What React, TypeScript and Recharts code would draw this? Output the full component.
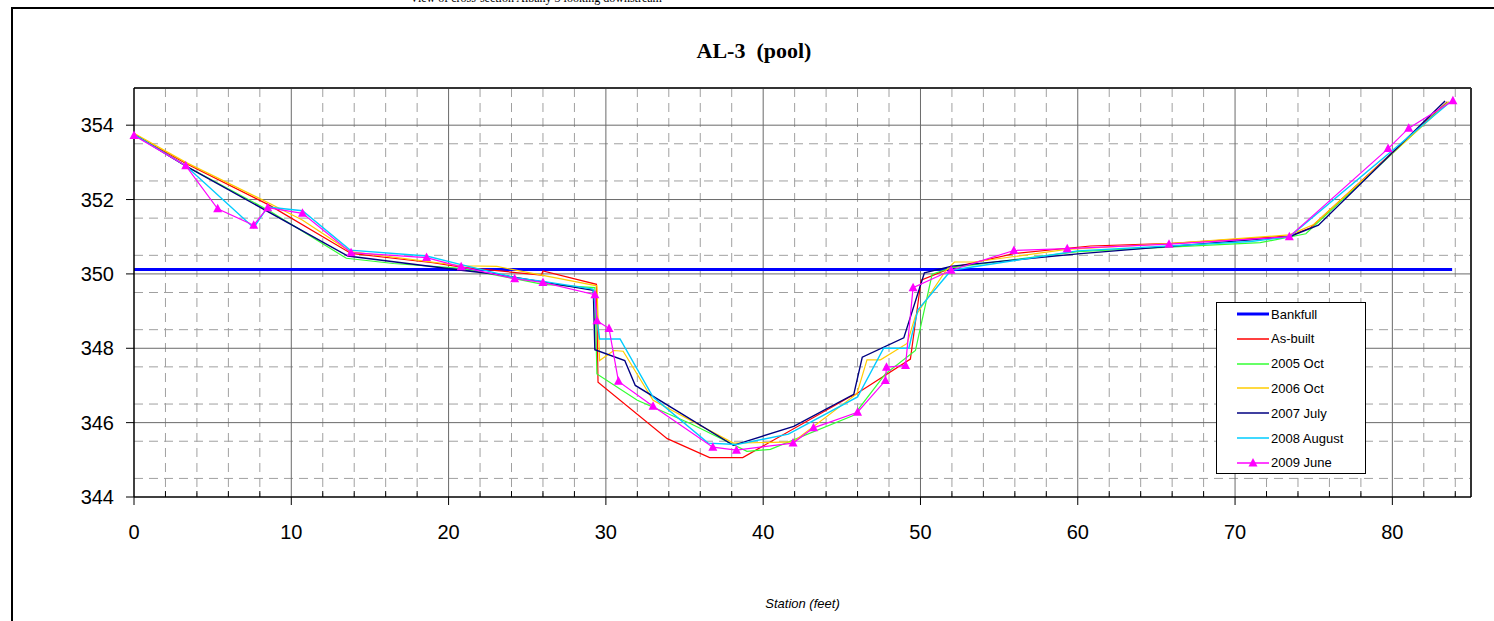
import React from 'react';
import { LineChart, Line, XAxis, YAxis, CartesianGrid, ReferenceLine } from 'recharts';

// station (feet) / elevation pairs
const bankfull = [[0, 350.12], [83.8, 350.12]];

const asBuilt = [
  [0, 353.75], [3.3, 352.97], [8.6, 351.85], [13.8, 350.55], [19.0, 350.3], [20.8, 350.18],
  [25.9, 349.97], [26.0, 350.08], [29.4, 349.72], [29.5, 347.09], [33.9, 345.57], [36.6, 345.06],
  [38.7, 345.06], [45.5, 346.69], [45.76, 346.73], [49.36, 347.71], [50.04, 349.83], [52.0, 350.17],
  [56.0, 350.55], [60.8, 350.75], [66.0, 350.82], [73.45, 351.02], [74.8, 351.24], [83.5, 354.63],
];

const oct2005 = [
  [0, 353.75], [3.3, 352.9], [8.6, 351.7], [13.5, 350.42], [16.5, 350.28], [20.8, 350.15],
  [26.0, 349.72], [29.3, 349.63], [29.43, 347.31], [32.0, 346.6], [35.4, 345.97], [38.97, 345.23],
  [40.46, 345.28], [45.76, 346.2], [47.77, 347.31], [49.68, 347.94], [50.74, 349.99], [52.0, 350.17],
  [60.0, 350.6], [71.6, 350.84], [74.5, 351.08], [83.5, 354.61],
];

const oct2006 = [
  [0, 353.78], [3.3, 353.0], [8.6, 351.9], [10.7, 351.45], [13.74, 350.6], [20.8, 350.22],
  [23.07, 350.2], [29.43, 349.68], [29.6, 347.67], [30.5, 347.94], [31.1, 347.92], [33.0, 346.6],
  [38.1, 345.45], [41.9, 345.48], [45.96, 346.78], [46.6, 347.69], [47.46, 347.69], [49.15, 348.13],
  [49.68, 348.87], [51.6, 350.08], [52.16, 350.32], [53.4, 350.32], [59.3, 350.66], [66.0, 350.82],
  [73.45, 351.05], [75.0, 351.33], [83.6, 354.63],
];

const july2007 = [
  [0, 353.75], [3.3, 352.9], [13.6, 350.48], [20.8, 350.1], [23.07, 349.99], [29.2, 349.56],
  [29.3, 347.96], [31.2, 347.67], [31.87, 347.0], [38.1, 345.39], [41.94, 345.9], [45.76, 346.76],
  [46.3, 347.76], [48.94, 348.28], [50.25, 350.03], [52.0, 350.21], [60.0, 350.54], [73.45, 351.0],
  [75.3, 351.31], [83.35, 354.65],
];

const aug2008 = [
  [0, 353.75], [3.29, 352.91], [7.61, 351.24], [8.5, 351.8], [10.71, 351.7], [13.74, 350.64],
  [18.6, 350.48], [20.8, 350.25], [24.2, 349.9], [26.0, 349.8], [29.18, 349.59], [29.6, 348.25],
  [30.9, 348.25], [33.0, 346.69], [36.5, 345.45], [38.3, 345.41], [41.6, 345.69], [46.0, 346.69],
  [47.66, 348.0], [49.26, 348.0], [49.83, 349.03], [51.95, 350.1], [60.0, 350.62], [71.0, 350.87],
  [73.45, 351.0], [83.7, 354.63],
];

const june2009 = [
  [0, 353.72], [3.29, 352.91], [5.32, 351.75], [7.61, 351.31], [8.5, 351.78], [10.71, 351.63],
  [13.8, 350.57], [18.6, 350.44], [20.8, 350.19], [24.2, 349.87], [26.0, 349.77], [29.3, 349.44],
  [29.43, 348.74], [30.2, 348.53], [30.8, 347.11], [33.0, 346.44], [36.8, 345.34], [38.3, 345.26],
  [41.9, 345.45], [43.2, 345.86], [46.0, 346.28], [47.77, 347.13], [47.84, 347.49], [49.05, 347.54],
  [49.53, 349.63], [51.95, 350.1], [55.94, 350.63], [59.33, 350.68], [65.8, 350.8], [73.45, 351.0],
  [79.73, 353.37], [81.04, 353.92], [83.85, 354.66],
];

const xTicks = [0, 10, 20, 30, 40, 50, 60, 70, 80];
const yTicks = [344, 346, 348, 350, 352, 354];

// gridline positions
const xMinor = Array.from({ length: 42 }, (_, i) => (i + 1) * 2).filter((v) => v % 10 !== 0);
const yMinor = Array.from({ length: 22 }, (_, i) => 344.5 + i * 0.5).filter((v) => v % 2 !== 0);

const series = [
  { name: 'Bankfull', pts: bankfull, color: '#0000ff', width: 3 },
  { name: 'As-built', pts: asBuilt, color: '#ff0000', width: 1.2 },
  { name: '2005 Oct', pts: oct2005, color: '#33ff33', width: 1.2 },
  { name: '2006 Oct', pts: oct2006, color: '#ffcc00', width: 1.2 },
  { name: '2007 July', pts: july2007, color: '#000080', width: 1.4 },
  { name: '2008 August', pts: aug2008, color: '#00ccff', width: 1.4 },
  { name: '2009 June', pts: june2009, color: '#ff00ff', width: 1.2 },
];

const toRows = (pts: number[][]) => pts.map(([x, y]) => ({ x, y }));

const Tri = (props: any) => {
  const { cx, cy, index } = props;
  if (cx == null || cy == null) return <g key={index} />;
  return (
    <polygon
      key={index}
      points={`${cx},${cy - 5} ${cx - 4.5},${cy + 3.5} ${cx + 4.5},${cy + 3.5}`}
      fill="#ff00ff"
    />
  );
};

const sans = 'Arial, "Liberation Sans", sans-serif';
const serif = '"Times New Roman", "Liberation Serif", serif';

const Legend = () => (
  <div
    style={{
      position: 'absolute', left: 1216, top: 302, width: 148, height: 170,
      border: '1px solid #000', background: '#fff', fontFamily: sans, fontSize: 13,
    }}
  >
    {series.map((s, i) => (
      <div key={s.name} style={{ position: 'absolute', left: 20, top: 2 + i * 24.8, height: 18, display: 'flex', alignItems: 'center' }}>
        <svg width={32} height={14}>
          <line x1={0} x2={32} y1={7} y2={7} stroke={s.color} strokeWidth={s.name === 'Bankfull' ? 3 : 1.5} />
          {s.name === '2009 June' && <polygon points="16,2 11.5,10.5 20.5,10.5" fill="#ff00ff" />}
        </svg>
        <span style={{ marginLeft: 2, color: '#000' }}>{s.name}</span>
      </div>
    ))}
  </div>
);

const App = () => (
  <div style={{ position: 'fixed', left: 0, top: 0, width: 1494, height: 621, background: '#fff', overflow: 'hidden' }}>
    <div style={{ position: 'absolute', left: 410, top: -9, fontFamily: serif, fontSize: 12, whiteSpace: 'nowrap' }}>
      View of cross-section Albany 3 looking downstream
    </div>
    <div style={{ position: 'absolute', left: 11, top: 7, width: 1600, height: 700, border: '2px solid #000' }} />
    <div style={{ position: 'absolute', left: 0, width: 1508, top: 38, textAlign: 'center', fontFamily: serif, fontWeight: 'bold', fontSize: 22, whiteSpace: 'pre' }}>
      AL-3  (pool)
    </div>
    <div style={{ position: 'absolute', left: 134, width: 1337, top: 596, textAlign: 'center', fontFamily: sans, fontStyle: 'italic', fontSize: 13 }}>
      Station (feet)
    </div>
    <div style={{ position: 'absolute', left: 0, top: 0 }}>
      <LineChart width={1494} height={621} margin={{ top: 88, right: 23, bottom: 0, left: 0 }}>
        <CartesianGrid
          stroke="#a0a0a0"
          strokeDasharray="9 6"
          horizontalValues={yMinor}
          verticalValues={xMinor}
        />
        <CartesianGrid
          stroke="#6a6a6a"
          horizontalValues={yTicks.slice(1)}
          verticalValues={xTicks.slice(1)}
        />
        <XAxis
          type="number"
          dataKey="x"
          domain={[0, 85]}
          ticks={xTicks}
          allowDuplicatedCategory={false}
          height={124}
          tickSize={8}
          tickMargin={20}
          axisLine={{ stroke: '#000', strokeWidth: 1.5 }}
          tickLine={{ stroke: '#000' }}
          tick={{ fill: '#000', fontSize: 20, fontFamily: sans }}
        />
        <YAxis
          type="number"
          domain={[344, 355]}
          ticks={yTicks}
          width={134}
          tickSize={8}
          tickMargin={12}
          axisLine={{ stroke: '#000', strokeWidth: 1.5 }}
          tickLine={{ stroke: '#000' }}
          tick={{ fill: '#000', fontSize: 20, fontFamily: sans }}
        />
        <ReferenceLine y={355} stroke="#333" strokeWidth={2} />
        <ReferenceLine x={85} stroke="#333" strokeWidth={2} />
        {xMinor.map((v) => (
          <ReferenceLine key={'mt' + v} segment={[{ x: v, y: 344 }, { x: v, y: 344.16 }]} stroke="#000" />
        ))}
        {series.map((s) => (
          <Line
            key={s.name}
            data={toRows(s.pts)}
            dataKey="y"
            name={s.name}
            type="linear"
            stroke={s.color}
            strokeWidth={s.width}
            dot={s.name === '2009 June' ? Tri : false}
            activeDot={false}
            isAnimationActive={false}
          />
        ))}
      </LineChart>
    </div>
    <Legend />
  </div>
);

export default App;
